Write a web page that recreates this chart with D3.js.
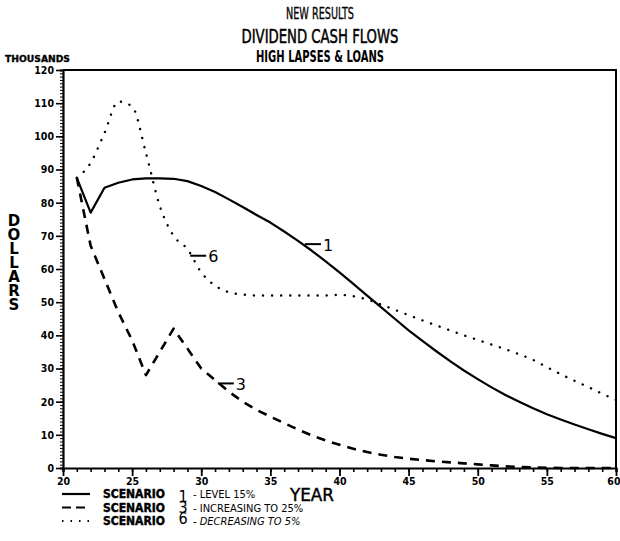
<!DOCTYPE html>
<html>
<head>
<meta charset="utf-8">
<script src="https://cdn.jsdelivr.net/npm/d3@7/dist/d3.min.js"></script>
<style>
  body { margin: 0; background: #fff; }
  svg { display: block; }
  text { fill: #000; }
  .stacked { writing-mode: vertical-rl; text-orientation: upright; }
</style>
</head>
<body>
<script>
// Policy years and yearly dividend cash flows (thousands of dollars)
const years = [21,22,23,24,25,26,27,28,29,30,31,32,33,34,35,36,37,38,39,40,
               41,42,43,44,45,46,47,48,49,50,51,52,53,54,55,56,57,58,59,60];

// Scenario 1 - level 15%
const scenario1 = [87.5,77,84.5,86,87,87.3,87.3,87.2,86.5,85,83.2,81,78.7,76.3,74,71.3,68.5,65.5,62.3,59,
                   55.5,52,48.5,45,41.5,38.3,35.2,32.2,29.4,26.8,24.3,22,20,18,16.2,14.6,13.1,11.7,10.3,9];

// Scenario 3 - increasing to 25%
const scenario3 = [87.5,67,57,47,38.5,28,35,42,36,30,26.5,23,20,17.5,15.5,13.5,11.6,9.8,8.3,7,
                   5.8,4.8,4,3.3,2.8,2.4,2,1.7,1.4,1.1,0.8,0.5,0.3,0.15,0.05,0,0,0,0,0];

// Scenario 6 - decreasing to 5%
const scenario6 = [87.5,92,101,110.5,109,95,79,70,66,59,55,53,52.3,52,52,52,52,52,52,52.2,
                   51.8,50.8,49.3,47.7,46.1,44.5,43,41.5,40,38.6,37.2,35.8,34.3,32.6,30.4,28.3,26.3,24.4,22.4,20.5];

const yMajorTicks = [0,10,20,30,40,50,60,70,80,90,100,110,120];
const xMajorTicks = [20,25,30,35,40,45,50,55,60];
const titleLines = ["NEW RESULTS", "DIVIDEND CASH FLOWS", "HIGH LAPSES & LOANS"];
const unitLabel = "THOUSANDS";
const yAxisTitle = "DOLLARS";
const xAxisTitle = "YEAR";
const legendNumbers = ["1", "3", "6"];
const legendTexts = ["- LEVEL 15%", "- INCREASING TO 25%", "- DECREASING TO 5%"];
// Curve call-outs: series number, year and value where the pointer starts
const callouts = [
  { num: "1", year: 37.5, value: 67.5 },
  { num: "6", year: 29.2, value: 64 },
  { num: "3", year: 31.2, value: 25.5 }
];

const W = 620, H = 541;
const svg = d3.select("body").append("svg").attr("width", W).attr("height", H);

const x = d3.scaleLinear().domain([20, 60]).range([63, 616]);
const y = d3.scaleLinear().domain([0, 120]).range([468, 70]);

const narrow = "'DejaVu Sans Condensed', 'Liberation Sans Narrow', 'DejaVu Sans', sans-serif";

// Titles, drawn with a light outline for a pen-plotter weight
const titleStyle = [
  { y: 14, size: 15, weight: 400, len: 68, pen: 0.3 },
  { y: 36, size: 20, weight: 400, len: 157, pen: 0.5 },
  { y: 57, size: 15, weight: 700, len: 128, pen: 0 }
];
titleLines.forEach((t, i) => {
  const s = titleStyle[i];
  svg.append("text")
    .attr("x", 320).attr("y", s.y)
    .attr("text-anchor", "middle").attr("dominant-baseline", "central")
    .attr("font-family", narrow).attr("font-size", s.size).attr("font-weight", s.weight)
    .attr("stroke", "#000").attr("stroke-width", s.pen)
    .attr("textLength", s.len).attr("lengthAdjust", "spacingAndGlyphs")
    .text(t);
});

svg.append("text")
  .attr("x", 5).attr("y", 58.5).attr("dominant-baseline", "central")
  .attr("font-family", narrow).attr("font-size", 9).attr("font-weight", 900)
  .attr("stroke", "#000").attr("stroke-width", 0.3)
  .attr("textLength", 65).attr("lengthAdjust", "spacingAndGlyphs")
  .text(unitLabel);

// Vertical axis title, letters stacked upright
svg.append("text").attr("class", "stacked")
  .attr("x", 14).attr("y", 212)
  .attr("font-family", "'DejaVu Sans', sans-serif").attr("font-size", 15).attr("font-weight", 700)
  .attr("textLength", 102).attr("lengthAdjust", "spacing")
  .text(yAxisTitle);

// Y axis: minor ticks every unit, labelled major ticks every ten
const yMinor = d3.axisLeft(y).tickValues(d3.range(0, 121, 1)).tickSize(3).tickFormat("");
svg.append("g").attr("transform", `translate(${x(20)},0)`).call(yMinor)
  .call(g => g.select(".domain").attr("stroke-width", 2.2))
  .call(g => g.selectAll(".tick line").attr("stroke-width", 1));
const yMajor = d3.axisLeft(y).tickValues(yMajorTicks).tickSize(7).tickPadding(2);
svg.append("g").attr("transform", `translate(${x(20)},0)`).call(yMajor)
  .call(g => g.select(".domain").remove())
  .call(g => g.selectAll(".tick line").attr("stroke-width", 1.6))
  .call(g => g.selectAll(".tick text")
    .attr("font-family", narrow).attr("font-size", 10.5).attr("font-weight", 900));

// X axis: minor ticks every year, labelled major ticks every five
const xMinor = d3.axisBottom(x).tickValues(d3.range(20, 61, 1)).tickSize(4).tickFormat("");
svg.append("g").attr("transform", `translate(0,${y(0)})`).call(xMinor)
  .call(g => g.select(".domain").attr("stroke-width", 2.2))
  .call(g => g.selectAll(".tick line").attr("stroke-width", 1.6));
const xMajor = d3.axisBottom(x).tickValues(xMajorTicks).tickSize(8).tickPadding(2);
svg.append("g").attr("transform", `translate(0,${y(0)})`).call(xMajor)
  .call(g => g.select(".domain").remove())
  .call(g => g.selectAll(".tick line").attr("stroke-width", 1.8))
  .call(g => g.selectAll(".tick text")
    .attr("font-family", narrow).attr("font-size", 10.5).attr("font-weight", 900))
  // keep the last label inside the page edge
  .call(g => g.selectAll(".tick").filter(d => d === 60).select("text")
    .attr("text-anchor", "end").attr("x", 4));

// Frame: top and right edges
svg.append("path")
  .attr("d", `M${x(20)},${y(120)}H${x(60)}V${y(0)}`)
  .attr("fill", "none").attr("stroke", "#000").attr("stroke-width", 2);

// Series lines
const series = [
  { values: scenario1, dash: null, width: 2.2, curve: d3.curveLinear, cap: "butt" },
  { values: scenario3, dash: "9,7", width: 2.6, curve: d3.curveLinear, cap: "butt" },
  { values: scenario6, dash: "0.1,9", width: 2.4, curve: d3.curveMonotoneX, cap: "round" }
];
series.forEach(s => {
  const line = d3.line().x((d, i) => x(years[i])).y(d => y(d)).curve(s.curve);
  svg.append("path")
    .datum(s.values)
    .attr("d", line)
    .attr("fill", "none").attr("stroke", "#000")
    .attr("stroke-width", s.width)
    .attr("stroke-linecap", s.cap)
    .attr("stroke-linejoin", "round")
    .attr("stroke-dasharray", s.dash);
});

// Call-outs naming each curve
callouts.forEach(c => {
  const x0 = x(c.year), y0 = y(c.value);
  svg.append("line").attr("x1", x0).attr("x2", x0 + 16).attr("y1", y0).attr("y2", y0)
    .attr("stroke", "#000").attr("stroke-width", 2);
  svg.append("text").attr("x", x0 + 18).attr("y", y0 + 1)
    .attr("dominant-baseline", "central")
    .attr("font-family", "'DejaVu Sans', sans-serif").attr("font-size", 16)
    .text(c.num);
});

// Legend: line samples, labels, stacked scenario numbers and descriptions
const legendRows = [494, 507.5, 521];
const legendDash = [null, "9,5", "1.5,7"];
legendRows.forEach((ry, i) => {
  svg.append("line").attr("x1", 62).attr("x2", 90).attr("y1", ry).attr("y2", ry)
    .attr("stroke", "#000").attr("stroke-width", 2.2)
    .attr("stroke-dasharray", legendDash[i]);
  svg.append("text").attr("x", 103).attr("y", ry + 4.2)
    .attr("font-family", narrow).attr("font-size", 11.5).attr("font-weight", 900)
    .attr("stroke", "#000").attr("stroke-width", 0.4)
    .attr("textLength", 62).attr("lengthAdjust", "spacingAndGlyphs")
    .text("SCENARIO");
  svg.append("text").attr("x", 193).attr("y", ry + 4)
    .attr("font-family", narrow).attr("font-size", 11)
    .attr("font-style", i === 2 ? "italic" : "normal")
    .text(legendTexts[i]);
});
svg.append("text").attr("class", "stacked")
  .attr("x", 183).attr("y", legendRows[0] - 7)
  .attr("font-family", narrow).attr("font-size", 16)
  .attr("textLength", 40.5).attr("lengthAdjust", "spacing")
  .text(legendNumbers.join(""));

svg.append("text").attr("x", 290).attr("y", 501)
  .attr("font-family", narrow).attr("font-size", 17).attr("stroke", "#000").attr("stroke-width", 0.4)
  .attr("textLength", 44).attr("lengthAdjust", "spacingAndGlyphs")
  .text(xAxisTitle);
</script>
</body>
</html>
